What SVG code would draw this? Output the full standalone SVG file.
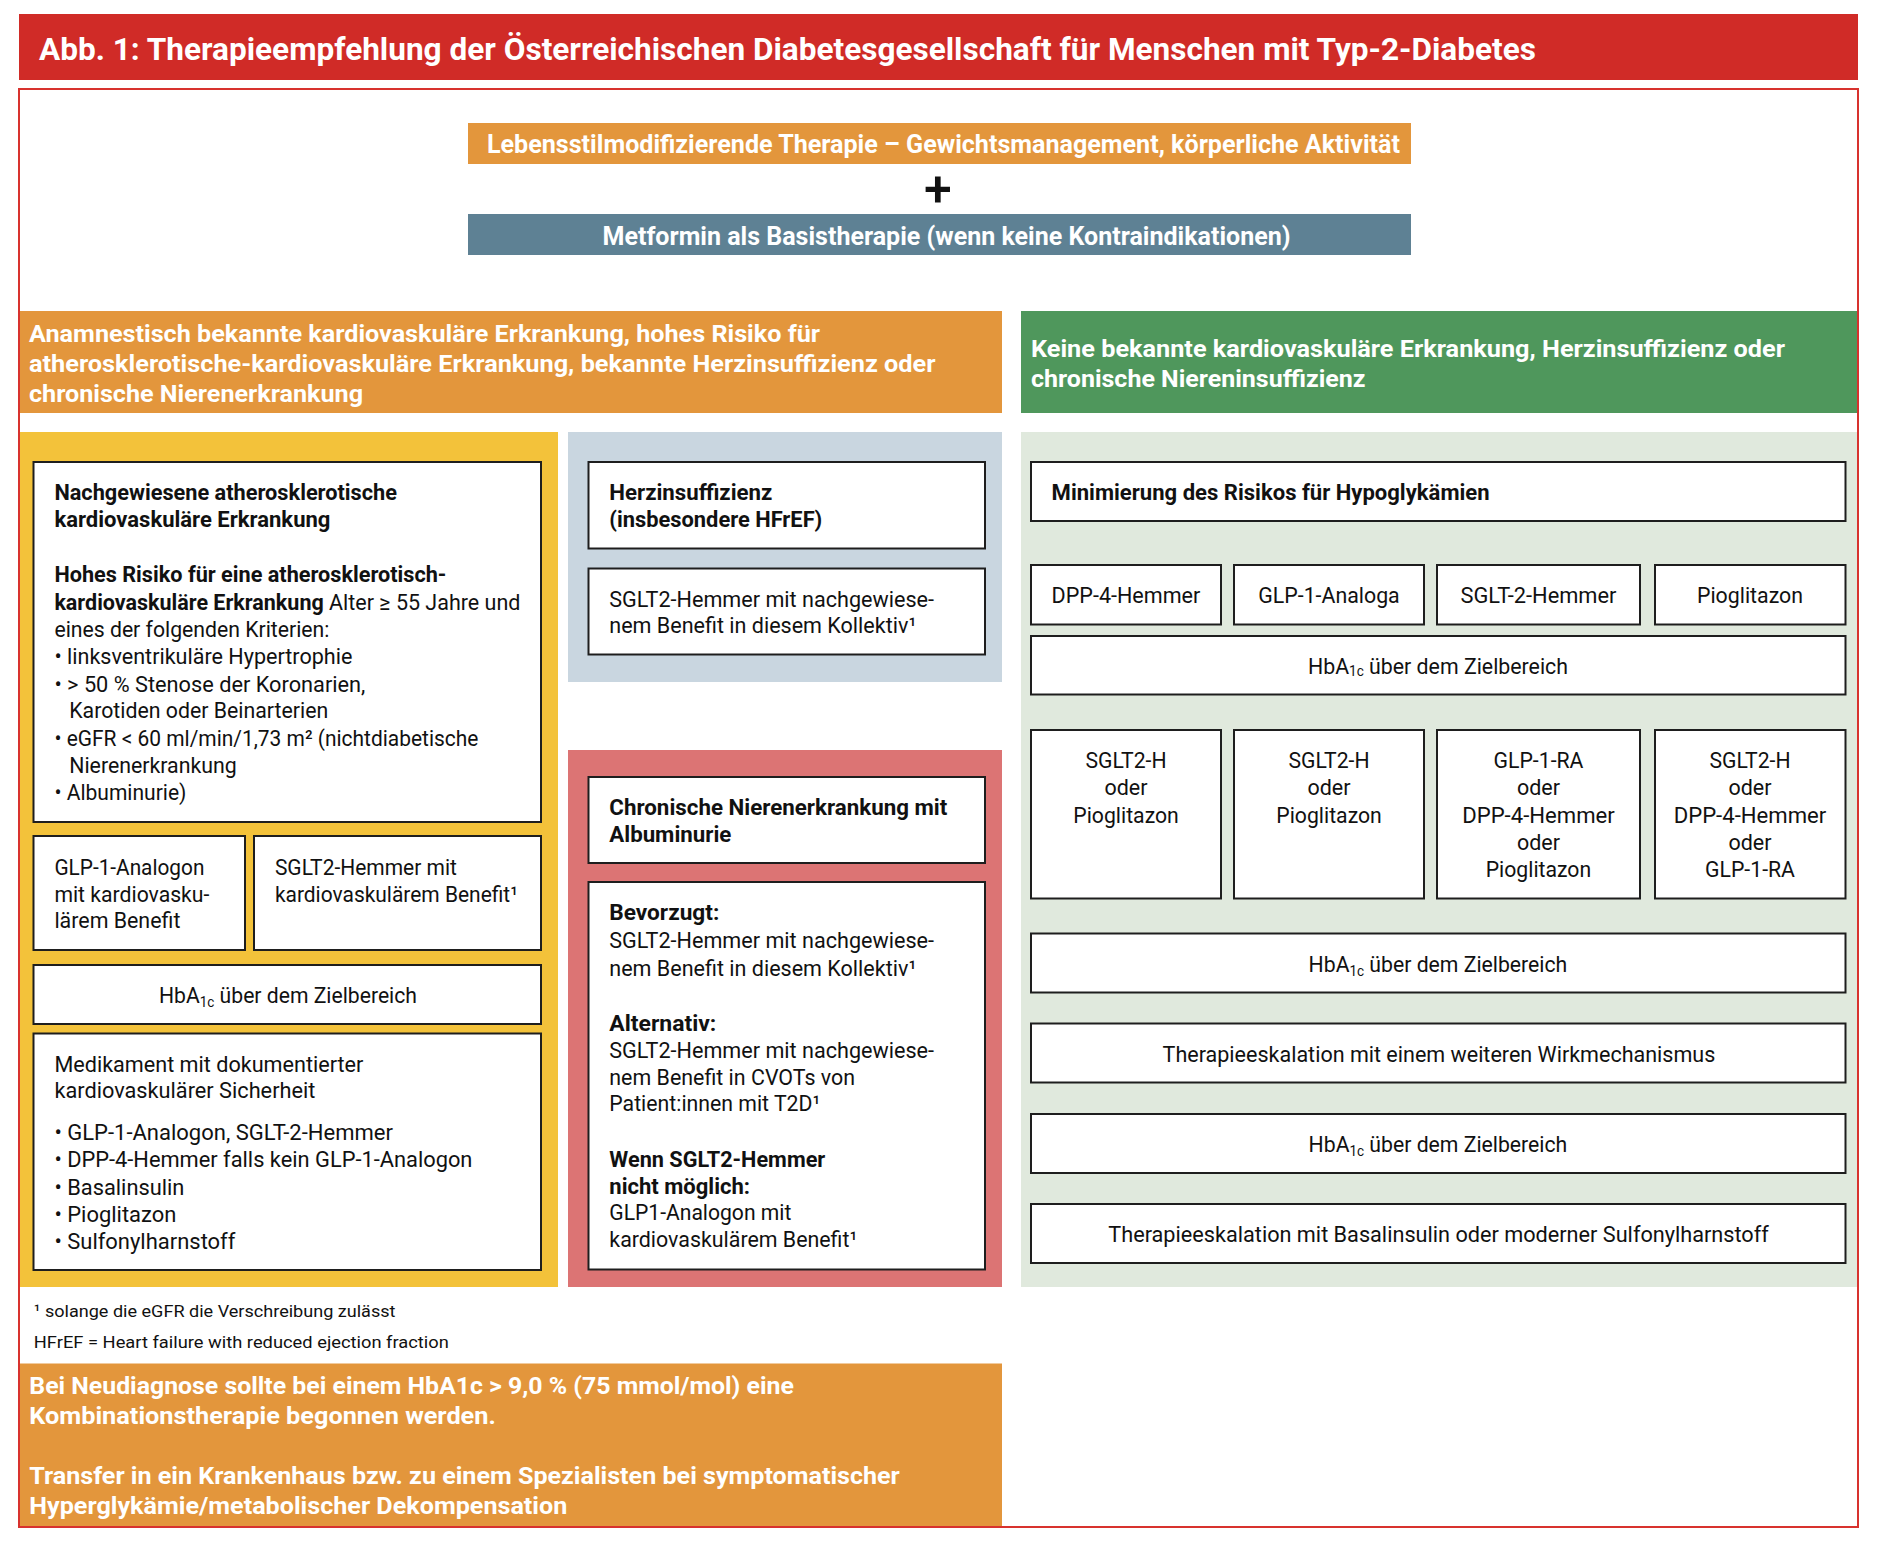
<svg xmlns="http://www.w3.org/2000/svg" width="1880" height="1548" viewBox="0 0 1880 1548">
<style>
text{font-family:Roboto,"Liberation Sans",Arial,sans-serif;fill:#111;}
.w{fill:#fff;}
.b{font-weight:bold;}
.s22{font-size:22px;}
.s24{font-size:24px;}
.box{fill:#fff;stroke:#1e1e1e;stroke-width:2;}
.sub{font-size:14px;}
</style>
<rect x="0" y="0" width="1880" height="1548" fill="#fff"/>
<g id="title">
<rect x="19" y="14" width="1839" height="66" fill="#d02b27"/>
<text x="39" y="60" class="w b" font-size="31" textLength="1497" lengthAdjust="spacingAndGlyphs">Abb. 1: Therapieempfehlung der Österreichischen Diabetesgesellschaft für Menschen mit Typ-2-Diabetes</text>
</g>
<g id="lifestyle">
<rect x="468" y="123" width="943" height="41" fill="#e3963c"/>
<text x="487" y="153" class="w b" font-size="25" textLength="913" lengthAdjust="spacingAndGlyphs">Lebensstilmodifizierende Therapie – Gewichtsmanagement, körperliche Aktivität</text>
</g>
<g id="plus">
<text x="938" y="205.5" font-size="50" font-weight="500" text-anchor="middle">+</text>
</g>
<g id="metformin">
<rect x="468" y="214" width="943" height="41" fill="#5e8194"/>
<text x="602.5" y="245" class="w b" font-size="25" textLength="688" lengthAdjust="spacingAndGlyphs">Metformin als Basistherapie (wenn keine Kontraindikationen)</text>
</g>
<g id="header-cv">
<rect x="20" y="311" width="982" height="102" fill="#e3963c"/>
<text x="29" y="341.7" class="w b s24" textLength="791" lengthAdjust="spacingAndGlyphs">Anamnestisch bekannte kardiovaskuläre Erkrankung, hohes Risiko für</text>
<text x="29" y="371.7" class="w b s24" textLength="906.5" lengthAdjust="spacingAndGlyphs">atherosklerotische-kardiovaskuläre Erkrankung, bekannte Herzinsuffizienz oder</text>
<text x="29" y="401.7" class="w b s24" textLength="334" lengthAdjust="spacingAndGlyphs">chronische Nierenerkrankung</text>
</g>
<g id="header-none">
<rect x="1021" y="311" width="836" height="102" fill="#4f975c"/>
<text x="1031" y="357.3" class="w b s24" textLength="754" lengthAdjust="spacingAndGlyphs">Keine bekannte kardiovaskuläre Erkrankung, Herzinsuffizienz oder</text>
<text x="1031" y="387.3" class="w b s24" textLength="334.5" lengthAdjust="spacingAndGlyphs">chronische Niereninsuffizienz</text>
</g>
<g id="panel-ascvd">
<rect x="20" y="432" width="538" height="855" fill="#f3c23a"/>
</g>
<g id="box-ascvd">
<rect class="box" x="33.5" y="462" width="507.5" height="360"/>
<text x="54.4" y="500" class="b s22" textLength="342.6" lengthAdjust="spacingAndGlyphs">Nachgewiesene atherosklerotische</text>
<text x="54.4" y="527.3" class="b s22" textLength="276" lengthAdjust="spacingAndGlyphs">kardiovaskuläre Erkrankung</text>
<text x="54.4" y="581.7" class="b s22" textLength="392" lengthAdjust="spacingAndGlyphs">Hohes Risiko für eine atherosklerotisch-</text>
<text x="54.4" y="610" class="s22" textLength="466" lengthAdjust="spacingAndGlyphs"><tspan class="b">kardiovaskuläre Erkrankung</tspan> Alter ≥ 55 Jahre und</text>
<text x="54.4" y="636.7" class="s22" textLength="275" lengthAdjust="spacingAndGlyphs">eines der folgenden Kriterien:</text>
<text x="54.4" y="664" class="s22" textLength="298" lengthAdjust="spacingAndGlyphs">• linksventrikuläre Hypertrophie</text>
<text x="54.4" y="691.7" class="s22" textLength="311" lengthAdjust="spacingAndGlyphs">• &gt; 50 % Stenose der Koronarien,</text>
<text x="69.2" y="718.3" class="s22" textLength="259" lengthAdjust="spacingAndGlyphs">Karotiden oder Beinarterien</text>
<text x="54.4" y="746" class="s22" textLength="424" lengthAdjust="spacingAndGlyphs">• eGFR &lt; 60 ml/min/1,73 m² (nichtdiabetische</text>
<text x="69.2" y="773.3" class="s22" textLength="167.6" lengthAdjust="spacingAndGlyphs">Nierenerkrankung</text>
<text x="54.4" y="800" class="s22" textLength="132" lengthAdjust="spacingAndGlyphs">• Albuminurie)</text>
</g>
<g id="box-glp1">
<rect class="box" x="33.5" y="836" width="211.5" height="114"/>
<text x="54.4" y="875" class="s22" textLength="150" lengthAdjust="spacingAndGlyphs">GLP-1-Analogon</text>
<text x="54.4" y="901.7" class="s22" textLength="155" lengthAdjust="spacingAndGlyphs">mit kardiovasku-</text>
<text x="54.4" y="928.3" class="s22" textLength="126" lengthAdjust="spacingAndGlyphs">lärem Benefit</text>
</g>
<g id="box-sglt2-cv">
<rect class="box" x="254" y="836" width="287" height="114"/>
<text x="274.9" y="875" class="s22" textLength="182" lengthAdjust="spacingAndGlyphs">SGLT2-Hemmer mit</text>
<text x="274.9" y="901.7" class="s22" textLength="243" lengthAdjust="spacingAndGlyphs">kardiovaskulärem Benefit¹</text>
</g>
<g id="box-hba1c-left">
<rect class="box" x="33.5" y="965" width="507.5" height="59"/>
<text x="159" y="1003.3" class="s22" textLength="258" lengthAdjust="spacingAndGlyphs">HbA<tspan class="sub" dy="4">1c</tspan><tspan dy="-4"> über dem Zielbereich</tspan></text>
</g>
<g id="box-safety">
<rect class="box" x="33.5" y="1033.5" width="507.5" height="236.5"/>
<text x="54.4" y="1071.7" class="s22" textLength="309" lengthAdjust="spacingAndGlyphs">Medikament mit dokumentierter</text>
<text x="54.4" y="1098.3" class="s22" textLength="261" lengthAdjust="spacingAndGlyphs">kardiovaskulärer Sicherheit</text>
<text x="54.4" y="1140" class="s22" textLength="338.5" lengthAdjust="spacingAndGlyphs">• GLP-1-Analogon, SGLT-2-Hemmer</text>
<text x="54.4" y="1167.3" class="s22" textLength="418" lengthAdjust="spacingAndGlyphs">• DPP-4-Hemmer falls kein GLP-1-Analogon</text>
<text x="54.4" y="1195" class="s22" textLength="130" lengthAdjust="spacingAndGlyphs">• Basalinsulin</text>
<text x="54.4" y="1221.7" class="s22" textLength="122" lengthAdjust="spacingAndGlyphs">• Pioglitazon</text>
<text x="54.4" y="1249" class="s22" textLength="181" lengthAdjust="spacingAndGlyphs">• Sulfonylharnstoff</text>
</g>
<g id="panel-hf">
<rect x="568" y="432" width="434" height="250" fill="#c9d6e0"/>
</g>
<g id="box-hf">
<rect class="box" x="588.5" y="462" width="396.5" height="86.5"/>
<text x="609.3" y="500" class="b s22" textLength="163" lengthAdjust="spacingAndGlyphs">Herzinsuffizienz</text>
<text x="609.3" y="527.3" class="b s22" textLength="213" lengthAdjust="spacingAndGlyphs">(insbesondere HFrEF)</text>
</g>
<g id="box-hf-sglt2">
<rect class="box" x="588.5" y="568.5" width="396.5" height="86"/>
<text x="609.3" y="606.7" class="s22" textLength="324.7" lengthAdjust="spacingAndGlyphs">SGLT2-Hemmer mit nachgewiese-</text>
<text x="609.3" y="633.3" class="s22" textLength="307" lengthAdjust="spacingAndGlyphs">nem Benefit in diesem Kollektiv¹</text>
</g>
<g id="panel-ckd">
<rect x="568" y="750" width="434" height="537" fill="#dc7474"/>
</g>
<g id="box-ckd">
<rect class="box" x="588.5" y="777" width="396.5" height="86"/>
<text x="609.3" y="815" class="b s22" textLength="338" lengthAdjust="spacingAndGlyphs">Chronische Nierenerkrankung mit</text>
<text x="609.3" y="841.8" class="b s22" textLength="122" lengthAdjust="spacingAndGlyphs">Albuminurie</text>
</g>
<g id="box-ckd-therapy">
<rect class="box" x="588.5" y="882" width="396.5" height="387.5"/>
<text x="609.3" y="920.4" class="b s22" textLength="110" lengthAdjust="spacingAndGlyphs">Bevorzugt:</text>
<text x="609.3" y="948.2" class="s22" textLength="324.7" lengthAdjust="spacingAndGlyphs">SGLT2-Hemmer mit nachgewiese-</text>
<text x="609.3" y="975.7" class="s22" textLength="307" lengthAdjust="spacingAndGlyphs">nem Benefit in diesem Kollektiv¹</text>
<text x="609.3" y="1031" class="b s22" textLength="107" lengthAdjust="spacingAndGlyphs">Alternativ:</text>
<text x="609.3" y="1057.9" class="s22" textLength="324.7" lengthAdjust="spacingAndGlyphs">SGLT2-Hemmer mit nachgewiese-</text>
<text x="609.3" y="1084.6" class="s22" textLength="245.7" lengthAdjust="spacingAndGlyphs">nem Benefit in CVOTs von</text>
<text x="609.3" y="1111.4" class="s22" textLength="211" lengthAdjust="spacingAndGlyphs">Patient:innen mit T2D¹</text>
<text x="609.3" y="1166.8" class="b s22" textLength="216" lengthAdjust="spacingAndGlyphs">Wenn SGLT2-Hemmer</text>
<text x="609.3" y="1193.6" class="b s22" textLength="140.7" lengthAdjust="spacingAndGlyphs">nicht möglich:</text>
<text x="609.3" y="1220.4" class="s22" textLength="182" lengthAdjust="spacingAndGlyphs">GLP1-Analogon mit</text>
<text x="609.3" y="1247" class="s22" textLength="248" lengthAdjust="spacingAndGlyphs">kardiovaskulärem Benefit¹</text>
</g>
<g id="panel-nocv">
<rect x="1021" y="432" width="836" height="855" fill="#e0e9dd"/>
</g>
<g id="box-hypo">
<rect class="box" x="1031" y="462" width="814.5" height="59"/>
<text x="1051.6" y="500" class="b s22" textLength="438" lengthAdjust="spacingAndGlyphs">Minimierung des Risikos für Hypoglykämien</text>
</g>
<g id="box-dpp4">
<rect class="box" x="1031" y="565" width="190" height="59.5"/>
<text x="1051.6" y="603" class="s22" textLength="148.7" lengthAdjust="spacingAndGlyphs">DPP-4-Hemmer</text>
</g>
<g id="box-glp1a">
<rect class="box" x="1234" y="565" width="190" height="59.5"/>
<text x="1258.3" y="603" class="s22" textLength="141.4" lengthAdjust="spacingAndGlyphs">GLP-1-Analoga</text>
</g>
<g id="box-sglt2h">
<rect class="box" x="1437" y="565" width="203" height="59.5"/>
<text x="1460.5" y="603" class="s22" textLength="156" lengthAdjust="spacingAndGlyphs">SGLT-2-Hemmer</text>
</g>
<g id="box-pio">
<rect class="box" x="1655" y="565" width="190.5" height="59.5"/>
<text x="1697" y="603" class="s22" textLength="106" lengthAdjust="spacingAndGlyphs">Pioglitazon</text>
</g>
<g id="box-hba1c-g1">
<rect class="box" x="1031" y="636" width="814.5" height="58.5"/>
<text x="1308" y="674" class="s22" textLength="260" lengthAdjust="spacingAndGlyphs">HbA<tspan class="sub" dy="2">1c</tspan><tspan dy="-2"> über dem Zielbereich</tspan></text>
</g>
<g id="box-combo1">
<rect class="box" x="1031" y="730" width="190" height="168.5"/>
<text x="1085.5" y="768.3" class="s22" textLength="81" lengthAdjust="spacingAndGlyphs">SGLT2-H</text>
<text x="1104.5" y="795" class="s22" textLength="43" lengthAdjust="spacingAndGlyphs">oder</text>
<text x="1073.3" y="822.7" class="s22" textLength="105.5" lengthAdjust="spacingAndGlyphs">Pioglitazon</text>
</g>
<g id="box-combo2">
<rect class="box" x="1234" y="730" width="190" height="168.5"/>
<text x="1288.5" y="768.3" class="s22" textLength="81" lengthAdjust="spacingAndGlyphs">SGLT2-H</text>
<text x="1307.5" y="795" class="s22" textLength="43" lengthAdjust="spacingAndGlyphs">oder</text>
<text x="1276.3" y="822.7" class="s22" textLength="105.5" lengthAdjust="spacingAndGlyphs">Pioglitazon</text>
</g>
<g id="box-combo3">
<rect class="box" x="1437" y="730" width="203" height="168.5"/>
<text x="1493.5" y="768.3" class="s22" textLength="90" lengthAdjust="spacingAndGlyphs">GLP-1-RA</text>
<text x="1517" y="795" class="s22" textLength="43" lengthAdjust="spacingAndGlyphs">oder</text>
<text x="1462.2" y="822.7" class="s22" textLength="152.6" lengthAdjust="spacingAndGlyphs">DPP-4-Hemmer</text>
<text x="1517" y="850" class="s22" textLength="43" lengthAdjust="spacingAndGlyphs">oder</text>
<text x="1485.7" y="877.3" class="s22" textLength="105.5" lengthAdjust="spacingAndGlyphs">Pioglitazon</text>
</g>
<g id="box-combo4">
<rect class="box" x="1655" y="730" width="190.5" height="168.5"/>
<text x="1709.5" y="768.3" class="s22" textLength="81" lengthAdjust="spacingAndGlyphs">SGLT2-H</text>
<text x="1728.5" y="795" class="s22" textLength="43" lengthAdjust="spacingAndGlyphs">oder</text>
<text x="1673.7" y="822.7" class="s22" textLength="152.6" lengthAdjust="spacingAndGlyphs">DPP-4-Hemmer</text>
<text x="1728.5" y="850" class="s22" textLength="43" lengthAdjust="spacingAndGlyphs">oder</text>
<text x="1705" y="877.3" class="s22" textLength="90" lengthAdjust="spacingAndGlyphs">GLP-1-RA</text>
</g>
<g id="box-hba1c-g2">
<rect class="box" x="1031" y="933.5" width="814.5" height="59"/>
<text x="1308.6" y="971.7" class="s22" textLength="258.7" lengthAdjust="spacingAndGlyphs">HbA<tspan class="sub" dy="4">1c</tspan><tspan dy="-4"> über dem Zielbereich</tspan></text>
</g>
<g id="box-escalation1">
<rect class="box" x="1031" y="1023.5" width="814.5" height="59"/>
<text x="1162.6" y="1062" class="s22" textLength="552.7" lengthAdjust="spacingAndGlyphs">Therapieeskalation mit einem weiteren Wirkmechanismus</text>
</g>
<g id="box-hba1c-g3">
<rect class="box" x="1031" y="1114" width="814.5" height="59"/>
<text x="1308.6" y="1151.7" class="s22" textLength="258.7" lengthAdjust="spacingAndGlyphs">HbA<tspan class="sub" dy="4">1c</tspan><tspan dy="-4"> über dem Zielbereich</tspan></text>
</g>
<g id="box-escalation2">
<rect class="box" x="1031" y="1204" width="814.5" height="59"/>
<text x="1108.3" y="1241.7" class="s22" textLength="660.5" lengthAdjust="spacingAndGlyphs">Therapieeskalation mit Basalinsulin oder moderner Sulfonylharnstoff</text>
</g>
<g id="footnotes">
<text x="33.8" y="1317.3" font-size="17" textLength="361.7" lengthAdjust="spacingAndGlyphs">¹ solange die eGFR die Verschreibung zulässt</text>
<text x="33.8" y="1347.7" font-size="17" textLength="415" lengthAdjust="spacingAndGlyphs">HFrEF = Heart failure with reduced ejection fraction</text>
</g>
<g id="note-bottom">
<rect x="20" y="1363.5" width="982" height="164" fill="#e3963c"/>
<text x="29.3" y="1394.3" class="w b" font-size="23" textLength="764.5" lengthAdjust="spacingAndGlyphs">Bei Neudiagnose sollte bei einem HbA1c &gt; 9,0 % (75 mmol/mol) eine</text>
<text x="29.3" y="1424.3" class="w b" font-size="23" textLength="466.5" lengthAdjust="spacingAndGlyphs">Kombinationstherapie begonnen werden.</text>
<text x="29.3" y="1484.3" class="w b" font-size="23" textLength="870.5" lengthAdjust="spacingAndGlyphs">Transfer in ein Krankenhaus bzw. zu einem Spezialisten bei symptomatischer</text>
<text x="29.3" y="1514.3" class="w b" font-size="23" textLength="538" lengthAdjust="spacingAndGlyphs">Hyperglykämie/metabolischer Dekompensation</text>
</g>
<g id="frame">
<rect x="19" y="89" width="1839" height="1438" fill="none" stroke="#d8322e" stroke-width="2"/>
</g>
<g id="connectors"/>
</svg>
